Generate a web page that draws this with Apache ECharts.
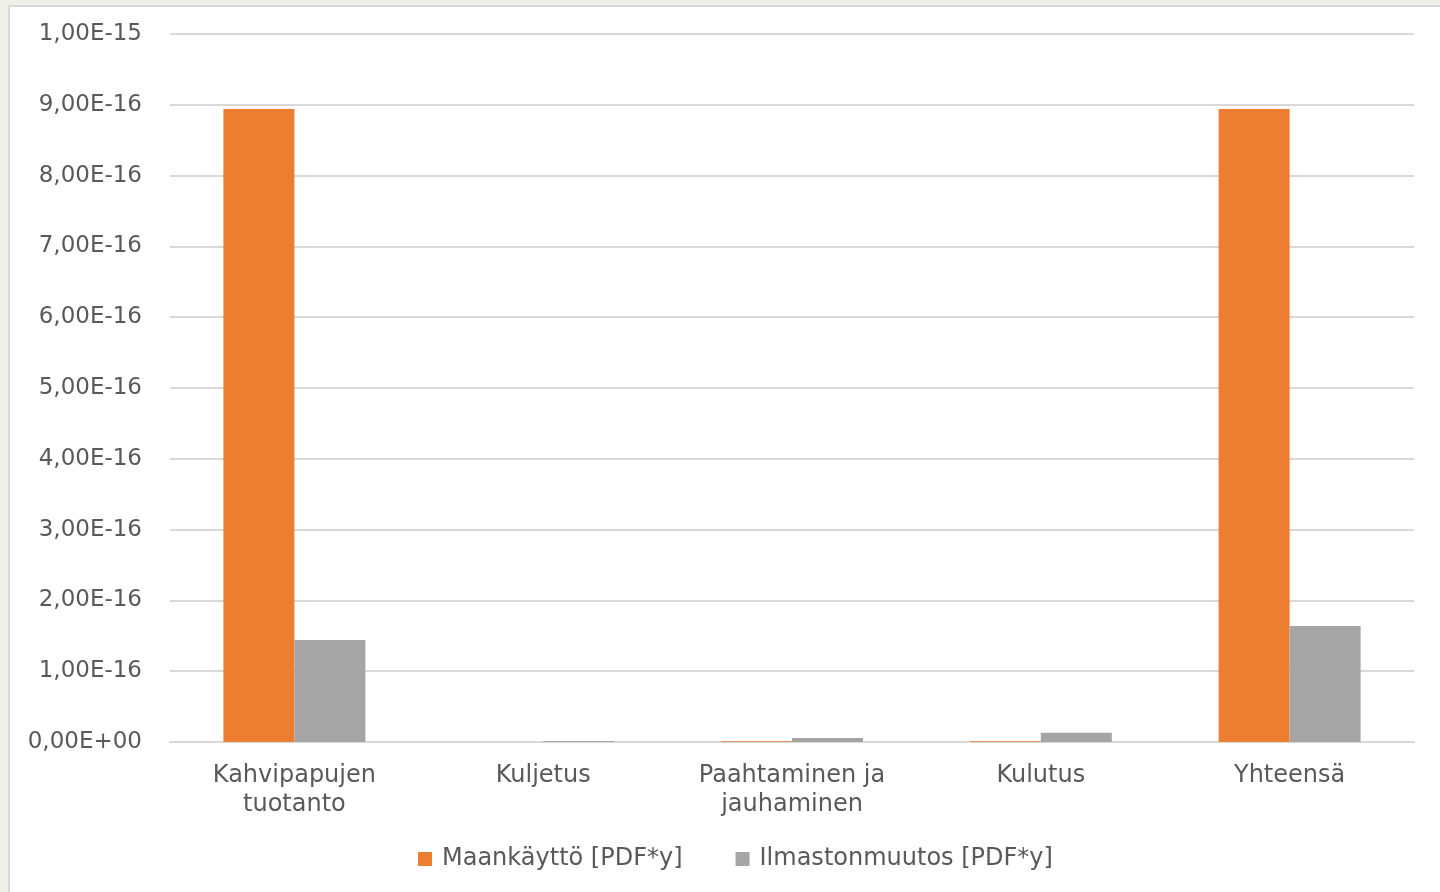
<!DOCTYPE html>
<html>
<head>
<meta charset="utf-8">
<script src="https://cdn.jsdelivr.net/npm/echarts@6/dist/echarts.min.js"></script>
<style>
html,body{margin:0;padding:0;width:1440px;height:892px;background:#f1f0e8;overflow:hidden;}
#frame{position:absolute;left:8px;top:5px;width:1432px;height:887px;background:#fff;border-left:2px solid #d9d9d9;border-top:2px solid #d9d9d9;box-sizing:border-box;}
#chart{position:absolute;left:0;top:0;width:1440px;height:892px;}
</style>
</head>
<body>
<div id="frame"></div>
<div id="chart"></div>
<script>
const categories = ["Kahvipapujen\ntuotanto", "Kuljetus", "Paahtaminen ja\njauhaminen", "Kulutus", "Yhteensä"];
const seriesNames = ["Maankäyttö [PDF*y]", "Ilmastonmuutos [PDF*y]"];
const maankaytto = [8.94e-16, 0, 1.0e-18, 1.0e-18, 8.94e-16];
const ilmastonmuutos = [1.44e-16, 1.5e-18, 5.5e-18, 1.3e-17, 1.64e-16];
const yMin = 0, yMax = 1e-15, yInterval = 1e-16;

function fmt(v){
  let s = Number(v).toExponential(2);
  let [m, e] = s.split('e');
  let sign = e[0] === '-' ? '-' : '+';
  let d = e.replace(/^[+-]/, '');
  if (d.length < 2) d = '0' + d;
  return m.replace('.', ',') + 'E' + sign + d;
}

const font = '"DejaVu Sans", Verdana, sans-serif';
const chart = echarts.init(document.getElementById('chart'), null, {renderer:'canvas'});
chart.setOption({
  backgroundColor: 'transparent',
  animation: false,
  textStyle: {fontFamily: font},
  grid: {left: 170, right: 26, top: 34, bottom: 150, containLabel: false},
  legend: {
    data: seriesNames,
    left: 413,
    top: 842,
    itemWidth: 14,
    itemHeight: 14,
    itemGap: 53,
    icon: 'rect',
    textStyle: {fontFamily: font, fontSize: 24, color: '#595959', padding: [0,0,0,5]}
  },
  xAxis: {
    type: 'category',
    data: categories,
    axisLine: {show: true, lineStyle: {color: '#d9d9d9', width: 2}},
    axisTick: {show: false},
    axisLabel: {fontFamily: font, fontSize: 24, color: '#595959', margin: 19, lineHeight: 29, interval: 0}
  },
  yAxis: {
    type: 'value',
    min: yMin, max: yMax, interval: yInterval,
    axisLine: {show: false},
    axisTick: {show: false},
    splitLine: {lineStyle: {color: '#d9d9d9', width: 2}},
    axisLabel: {fontFamily: font, fontSize: 23, color: '#595959', margin: 28, formatter: fmt}
  },
  series: [
    {name: seriesNames[0], type: 'bar', data: maankaytto, barWidth: 71, barGap: '0%', itemStyle: {color: '#ED7D31'}},
    {name: seriesNames[1], type: 'bar', data: ilmastonmuutos, barWidth: 71, barGap: '0%', itemStyle: {color: '#A5A5A5'}}
  ]
});
</script>
</body>
</html>
